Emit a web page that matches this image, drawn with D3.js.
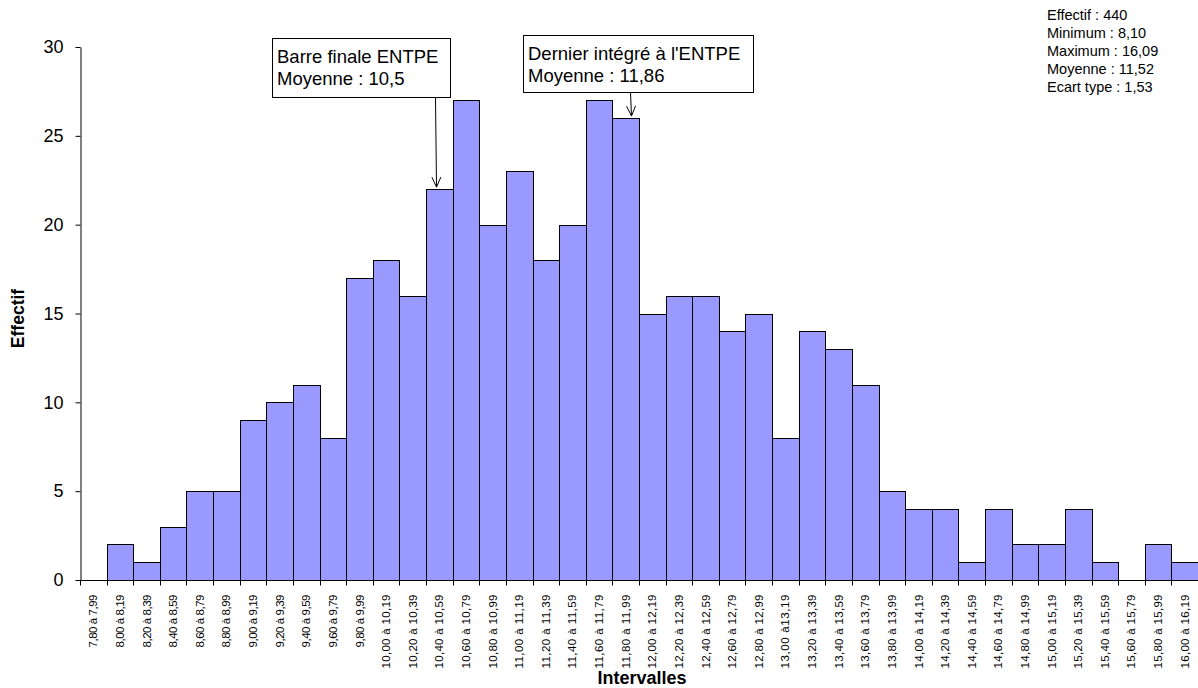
<!DOCTYPE html>
<html>
<head>
<meta charset="utf-8">
<script src="https://cdn.jsdelivr.net/npm/d3@7"></script>
<style>
  body { margin: 0; background: #fff; }
  svg { display: block; font-family: Arial, "Liberation Sans", sans-serif; }
</style>
</head>
<body>
<div id="chart"></div>
<script>
// Intervalles (bornes basses) et effectifs
const lowBounds = [7.80, 8.00, 8.20, 8.40, 8.60, 8.80, 9.00, 9.20, 9.40, 9.60,
  9.80, 10.00, 10.20, 10.40, 10.60, 10.80, 11.00, 11.20, 11.40, 11.60,
  11.80, 12.00, 12.20, 12.40, 12.60, 12.80, 13.00, 13.20, 13.40, 13.60,
  13.80, 14.00, 14.20, 14.40, 14.60, 14.80, 15.00, 15.20, 15.40, 15.60,
  15.80, 16.00];
const counts = [0, 2, 1, 3, 5, 5, 9, 10, 11, 8,
  17, 18, 16, 22, 27, 20, 23, 18, 20, 27,
  26, 15, 16, 16, 14, 15, 8, 14, 13, 11,
  5, 4, 4, 1, 4, 2, 2, 4, 1, 0,
  2, 1];
const yTicks = [0, 5, 10, 15, 20, 25, 30];
const stats = ['Effectif : 440', 'Minimum : 8,10', 'Maximum : 16,09', 'Moyenne : 11,52', 'Ecart type : 1,53'];
const notes = [
  { lines: ['Barre finale ENTPE', 'Moyenne : 10,5'], bar: 13, box: [272, 38, 178, 59], ax: 435 },
  { lines: ["Dernier intégré à l'ENTPE", 'Moyenne : 11,86'], bar: 20, box: [523, 35, 230, 57], ax: 630 }
];

const fmt = v => v.toFixed(2).replace('.', ',');
const labels = lowBounds.map(v => {
  const hi = fmt(v + 0.19);
  // l'original a un espace manquant pour 13,00
  return v === 13.00 ? fmt(v) + ' à' + hi : fmt(v) + ' à ' + hi;
});

const W = 1198, H = 688;
const margin = { top: 47, right: 0, bottom: 108, left: 80 };
const width = W - margin.left - margin.right,
    height = H - margin.top - margin.bottom;

const svg = d3.select('#chart').append('svg')
    .attr('width', W).attr('height', H);

const g = svg.append('g')
    .attr('transform', `translate(${margin.left},${margin.top})`);

const x = d3.scaleBand().domain(labels).range([0, width]).padding(0);
const y = d3.scaleLinear().domain([0, 30]).range([height, 0]);

// barres
const x0 = i => Math.round(x(labels[i]));
const x1 = i => Math.round(x(labels[i]) + x.bandwidth());
g.selectAll('.bar')
    .data(counts.map((c, i) => ({ c, i })).filter(d => d.c > 0))
    .enter()
    .append('rect')
    .attr('class', 'bar')
    .attr('x', d => x0(d.i) + 0.5)
    .attr('y', d => Math.round(y(d.c)) + 0.5)
    .attr('width', d => x1(d.i) - x0(d.i))
    .attr('height', d => Math.round(y(0)) - Math.round(y(d.c)))
    .attr('fill', '#9999FF')
    .attr('stroke', '#000')
    .attr('stroke-width', 1);

// axe Y
const yAxis = g.append('g')
    .attr('transform', 'translate(0.5,0)')
    .call(d3.axisLeft(y).tickValues(yTicks).tickSize(5).tickSizeOuter(0).tickPadding(12));
yAxis.select('.domain').attr('stroke', '#000');
yAxis.selectAll('.tick line').attr('stroke', '#000');
yAxis.selectAll('.tick text').attr('font-size', 18).attr('fill', '#000')
    .attr('font-family', 'Arial, "Liberation Sans", sans-serif');

// axe X : graduations entre les classes
const xAxisG = g.append('g').attr('transform', `translate(0,${height + 0.5})`);
xAxisG.append('line').attr('x1', 0).attr('x2', width).attr('stroke', '#000');
xAxisG.selectAll('.xt')
    .data(d3.range(labels.length + 1))
    .enter()
    .append('line')
    .attr('class', 'xt')
    .attr('x1', i => Math.round(i * x.step()) + 0.5)
    .attr('x2', i => Math.round(i * x.step()) + 0.5)
    .attr('y1', 0).attr('y2', 5)
    .attr('stroke', '#000');
xAxisG.selectAll('.xl')
    .data(labels)
    .enter()
    .append('text')
    .attr('class', 'xl')
    .attr('transform', l => `translate(${x(l) + x.bandwidth() / 2 + 4},14) rotate(-90)`)
    .attr('text-anchor', 'end')
    .attr('font-size', 11.5)
    .attr('textLength', l => l.length > 11 ? 74 : 53)
    .attr('lengthAdjust', 'spacing')
    .text(l => l);

// titres des axes
svg.append('text')
    .attr('x', 642).attr('y', 684)
    .attr('text-anchor', 'middle')
    .attr('font-size', 18).attr('font-weight', 'bold')
    .text('Intervalles');
svg.append('text')
    .attr('transform', `translate(24,${margin.top + height / 2 + 5}) rotate(-90)`)
    .attr('text-anchor', 'middle')
    .attr('font-size', 17.5).attr('font-weight', 'bold')
    .text('Effectif');

// statistiques
svg.selectAll('.stat')
    .data(stats)
    .enter()
    .append('text')
    .attr('class', 'stat')
    .attr('x', 1047).attr('y', (d, i) => 20 + i * 18)
    .attr('font-size', 14.5)
    .text(d => d);

// annotations avec flèches
notes.forEach(n => {
  const [bx, by, bw, bh] = n.box;
  svg.append('rect')
      .attr('x', bx + 0.5).attr('y', by + 0.5)
      .attr('width', bw).attr('height', bh)
      .attr('fill', '#fff').attr('stroke', '#000');
  n.lines.forEach((t, j) => {
    svg.append('text')
        .attr('x', bx + 5).attr('y', by + 25 + j * 22)
        .attr('font-size', 18.5)
        .text(t);
  });
  const sx = n.ax + 0.5, sy = by + bh + 0.5;
  const tx = n.ax + 1.5;
  const ty = margin.top + y(counts[n.bar]) - 2;
  svg.append('line')
      .attr('x1', sx).attr('y1', sy)
      .attr('x2', tx).attr('y2', ty)
      .attr('stroke', '#000');
  const ang = Math.atan2(ty - sy, tx - sx);
  const len = 11, spread = 0.42;
  const p = a => [tx - len * Math.cos(ang + a), ty - len * Math.sin(ang + a)];
  const a1 = p(spread), a2 = p(-spread);
  svg.append('path')
      .attr('d', `M${a1[0]},${a1[1]}L${tx},${ty}L${a2[0]},${a2[1]}`)
      .attr('fill', 'none').attr('stroke', '#000');
});
</script>
</body>
</html>
